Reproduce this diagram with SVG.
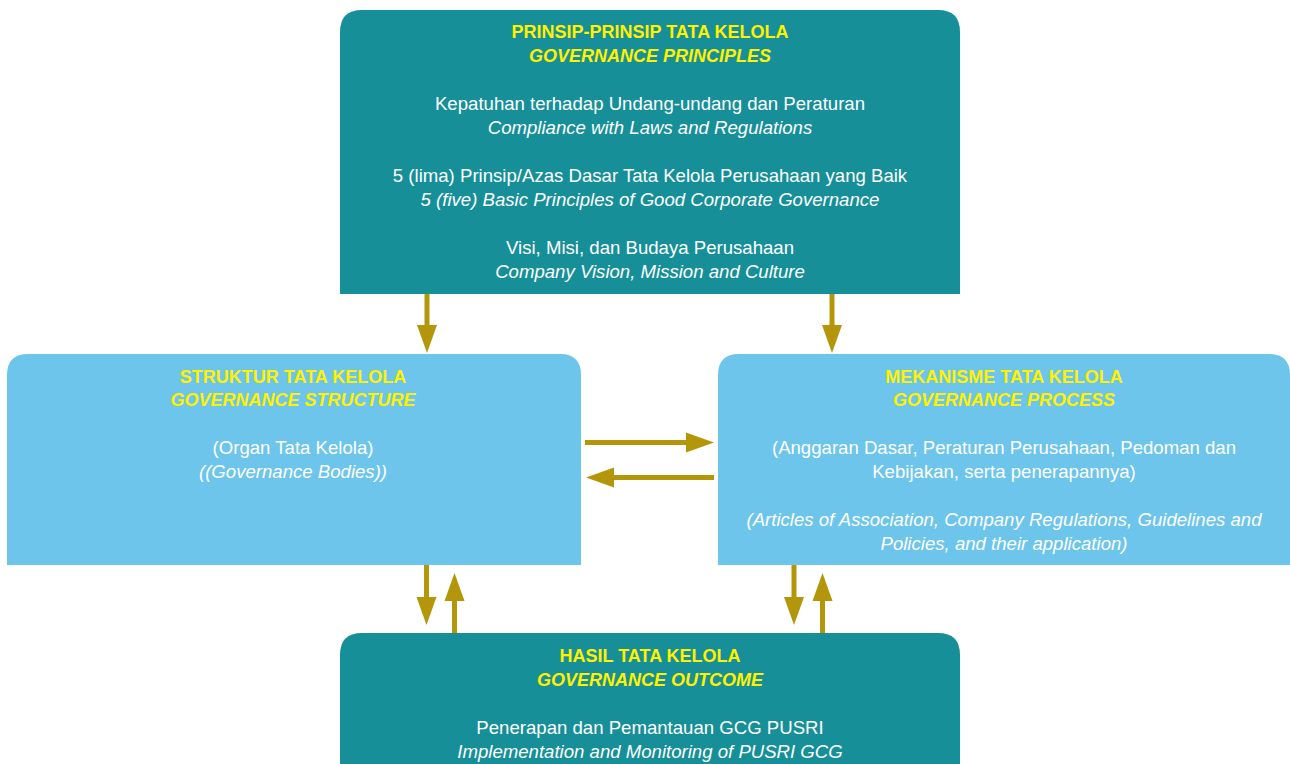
<svg xmlns="http://www.w3.org/2000/svg" width="1290" height="764" viewBox="0 0 1290 764">
  <style>
    .teal { fill: #168F99; }
    .sky { fill: #6DC5EC; }
    text { font-family: "Liberation Sans", Arial, sans-serif; font-size: 18.6px; text-anchor: middle; }
    .head { fill: #FFF100; font-weight: bold; font-size: 18px; }
    .head-i { fill: #FFF100; font-weight: bold; font-style: italic; font-size: 18px; }
    .body { fill: #FFFFFF; }
    .body-i { fill: #FFFFFF; font-style: italic; }
    .conn { stroke: #B3960A; stroke-width: 5; fill: none; marker-end: url(#arrow); }
  </style>
  <defs>
    <marker id="arrow" markerUnits="userSpaceOnUse" markerWidth="28" markerHeight="20" refX="4" refY="10" orient="auto" overflow="visible">
      <path d="M0,0 L28,10 L0,20 Z" fill="#B3960A"/>
    </marker>
  </defs>

  <rect width="1290" height="764" fill="#FFFFFF"/>

  <!-- Governance principles (top) -->
  <g id="node-principles">
    <path class="teal" d="M340,294 V32 Q340,10 362,10 H938 Q960,10 960,32 V294 Z"/>
    <text class="head" x="650" y="38">PRINSIP-PRINSIP TATA KELOLA</text>
    <text class="head-i" x="650" y="62">GOVERNANCE PRINCIPLES</text>
    <text class="body" x="650" y="110">Kepatuhan terhadap Undang-undang dan Peraturan</text>
    <text class="body-i" x="650" y="134">Compliance with Laws and Regulations</text>
    <text class="body" x="650" y="182">5 (lima) Prinsip/Azas Dasar Tata Kelola Perusahaan yang Baik</text>
    <text class="body-i" x="650" y="206">5 (five) Basic Principles of Good Corporate Governance</text>
    <text class="body" x="650" y="254">Visi, Misi, dan Budaya Perusahaan</text>
    <text class="body-i" x="650" y="278">Company Vision, Mission and Culture</text>
  </g>

  <!-- Governance structure (left) -->
  <g id="node-structure">
    <path class="sky" d="M7,565 V375 Q7,354 28,354 H560 Q581,354 581,375 V565 Z"/>
    <text class="head" x="293" y="383">STRUKTUR TATA KELOLA</text>
    <text class="head-i" x="293" y="406">GOVERNANCE STRUCTURE</text>
    <text class="body" x="293" y="454">(Organ Tata Kelola)</text>
    <text class="body-i" x="293" y="478">((Governance Bodies))</text>
  </g>

  <!-- Governance process (right) -->
  <g id="node-process">
    <path class="sky" d="M718,565 V375 Q718,354 739,354 H1269 Q1290,354 1290,375 V565 Z"/>
    <text class="head" x="1004" y="383">MEKANISME TATA KELOLA</text>
    <text class="head-i" x="1004" y="406">GOVERNANCE PROCESS</text>
    <text class="body" x="1004" y="454">(Anggaran Dasar, Peraturan Perusahaan, Pedoman dan</text>
    <text class="body" x="1004" y="478">Kebijakan, serta penerapannya)</text>
    <text class="body-i" x="1004" y="526">(Articles of Association, Company Regulations, Guidelines and</text>
    <text class="body-i" x="1004" y="550">Policies, and their application)</text>
  </g>

  <!-- Governance outcome (bottom) -->
  <g id="node-outcome">
    <path class="teal" d="M340,764 V655 Q340,633 362,633 H938 Q960,633 960,655 V764 Z"/>
    <text class="head" x="650" y="662">HASIL TATA KELOLA</text>
    <text class="head-i" x="650" y="686">GOVERNANCE OUTCOME</text>
    <text class="body" x="650" y="734">Penerapan dan Pemantauan GCG PUSRI</text>
    <text class="body-i" x="650" y="758">Implementation and Monitoring of PUSRI GCG</text>
  </g>

  <!-- Connectors -->
  <g id="connectors">
    <line class="conn" x1="427" y1="294" x2="427" y2="329"/>
    <line class="conn" x1="832" y1="294" x2="832" y2="329"/>
    <line class="conn" x1="585" y1="442.5" x2="690" y2="442.5"/>
    <line class="conn" x1="714" y1="477.5" x2="610" y2="477.5"/>
    <line class="conn" x1="426.5" y1="565" x2="426.5" y2="601"/>
    <line class="conn" x1="454.5" y1="633" x2="454.5" y2="597"/>
    <line class="conn" x1="794" y1="565" x2="794" y2="601"/>
    <line class="conn" x1="822.5" y1="633" x2="822.5" y2="597"/>
  </g>
</svg>
